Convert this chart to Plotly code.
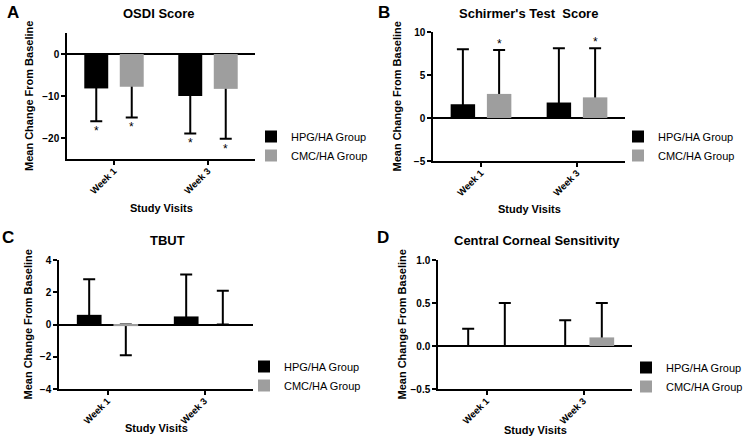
import plotly.graph_objects as go

W, H = 746, 445

visits = ["Week 1", "Week 3"]
groups = ["HPG/HA Group", "CMC/HA Group"]
group_colors = ["#000000", "#9e9e9e"]
x_title = "Study Visits"
y_title = "Mean Change From Baseline"

# Panel A: OSDI Score
osdi_hpg_mean = [-8.2, -10.0]
osdi_hpg_sd = [7.8, 8.9]
osdi_cmc_mean = [-7.8, -8.3]
osdi_cmc_sd = [7.3, 11.9]
osdi_hpg_sig = [True, True]
osdi_cmc_sig = [True, True]

# Panel B: Schirmer's Test Score
schirmer_hpg_mean = [1.6, 1.8]
schirmer_hpg_sd = [6.4, 6.3]
schirmer_cmc_mean = [2.8, 2.4]
schirmer_cmc_sd = [5.1, 5.7]
schirmer_hpg_sig = [False, False]
schirmer_cmc_sig = [True, True]

# Panel C: TBUT
tbut_hpg_mean = [0.6, 0.5]
tbut_hpg_sd = [2.2, 2.6]
tbut_cmc_mean = [-0.1, 0.0]
tbut_cmc_sd = [1.8, 2.1]
tbut_hpg_sig = [False, False]
tbut_cmc_sig = [False, False]

# Panel D: Central Corneal Sensitivity
ccs_hpg_mean = [0.0, 0.0]
ccs_hpg_sd = [0.2, 0.3]
ccs_cmc_mean = [0.0, 0.1]
ccs_cmc_sd = [0.5, 0.4]
ccs_hpg_sig = [False, False]
ccs_cmc_sig = [False, False]

panels = [
    dict(letter="A", title="OSDI Score", yrange=[-25, 5], dtick=10, fmt="d",
         means=[osdi_hpg_mean, osdi_cmc_mean], sds=[osdi_hpg_sd, osdi_cmc_sd],
         sig=[osdi_hpg_sig, osdi_cmc_sig]),
    dict(letter="B", title="Schirmer's Test  Score", yrange=[-5, 10], dtick=5, fmt="d",
         means=[schirmer_hpg_mean, schirmer_cmc_mean], sds=[schirmer_hpg_sd, schirmer_cmc_sd],
         sig=[schirmer_hpg_sig, schirmer_cmc_sig]),
    dict(letter="C", title="TBUT", yrange=[-4, 4], dtick=2, fmt="d",
         means=[tbut_hpg_mean, tbut_cmc_mean], sds=[tbut_hpg_sd, tbut_cmc_sd],
         sig=[tbut_hpg_sig, tbut_cmc_sig]),
    dict(letter="D", title="Central Corneal Sensitivity", yrange=[-0.5, 1.0], dtick=0.5, fmt=".1f",
         means=[ccs_hpg_mean, ccs_cmc_mean], sds=[ccs_hpg_sd, ccs_cmc_sd],
         sig=[ccs_hpg_sig, ccs_cmc_sig]),
]

# layout geometry (pixels)
plot_boxes = [(67, 255, 33, 159), (433, 625, 32, 161), (59, 253, 260, 389), (438, 632, 260, 389)]
title_pos = [(159, 14), (528, 13), (167, 240), (537, 240)]
letter_pos = [(13, 12), (384, 12), (8, 237), (383, 237)]
legend_pos = [(251, 146), (618, 146), (244, 376), (626, 377)]
ytitle_x = [29, 396, 27, 401]
xtitle_y = [208, 209, 428, 430]

FONT = "Liberation Sans, Arial, sans-serif"
fig = go.Figure()
annotations = []
layout = dict(width=W, height=H, margin=dict(l=0, r=0, t=0, b=0, autoexpand=False),
              paper_bgcolor="white", plot_bgcolor="white",
              barmode="group", bargap=0.245, bargroupgap=0.325,
              font=dict(family=FONT, color="black"), showlegend=True)

slot = (1 - 0.245) / 2
offsets = [-slot / 2, slot / 2]

for i, p in enumerate(panels):
    n = i + 1
    xa = "x" if n == 1 else f"x{n}"
    ya = "y" if n == 1 else f"y{n}"
    leg = "legend" if n == 1 else f"legend{n}"
    ogs = ["hpg", "cmc"]
    # error bars (drawn first, beneath the bars)
    for g in range(2):
        m, s = p["means"][g], p["sds"][g]
        up = [sd if mu >= 0 else -mu for mu, sd in zip(m, s)]
        dn = [mu if mu >= 0 else sd for mu, sd in zip(m, s)]
        fig.add_trace(go.Bar(
            x=visits, y=m, xaxis=xa, yaxis=ya, offsetgroup=ogs[g],
            marker=dict(color="rgba(0,0,0,0)", line=dict(width=0)),
            error_y=dict(type="data", symmetric=False, array=up, arrayminus=dn,
                         color="black", thickness=2, width=6),
            showlegend=False, hoverinfo="skip", legend=leg))
    for g in range(2):
        fig.add_trace(go.Bar(
            x=visits, y=p["means"][g], xaxis=xa, yaxis=ya, offsetgroup=ogs[g],
            name=groups[g], marker=dict(color=group_colors[g], line=dict(width=0)),
            legend=leg))
    # significance asterisks
    for g in range(2):
        for k in range(2):
            if p["sig"][g][k]:
                mu, sd = p["means"][g][k], p["sds"][g][k]
                end = mu - sd if mu < 0 else mu + sd
                annotations.append(dict(
                    x=k + offsets[g], y=end, xref=xa, yref=ya, text="*", showarrow=False,
                    yanchor="top" if mu < 0 else "bottom", yshift=-1 if mu < 0 else -3,
                    font=dict(size=12, family=FONT, color="black")))

    x0, x1, y0, y1 = plot_boxes[i]
    axis_common = dict(showline=True, linecolor="black", linewidth=1.5, ticks="outside",
                       ticklen=4, tickwidth=1.5, tickcolor="black", showgrid=False,
                       mirror=False, automargin=False)
    layout["xaxis" if n == 1 else f"xaxis{n}"] = dict(
        axis_common, domain=[x0 / W, x1 / W], anchor=ya, type="category", range=[-0.5, 1.5],
        tickangle=-45, zeroline=False, ticklabelstandoff=-3,
        tickfont=dict(size=9.5, family=FONT, weight="bold", color="black"))
    layout["yaxis" if n == 1 else f"yaxis{n}"] = dict(
        axis_common, domain=[1 - y1 / H, 1 - y0 / H], anchor=xa, range=p["yrange"],
        dtick=p["dtick"], tick0=0, tickformat=p["fmt"], zeroline=True, zerolinecolor="black",
        zerolinewidth=1.5,
        tickfont=dict(size=10, family=FONT, weight="bold", color="black"))
    # axis titles
    annotations.append(dict(x=(x0 + x1) / 2 / W, y=1 - xtitle_y[i] / H, xref="paper", yref="paper",
                            text=x_title, showarrow=False, xanchor="center", yanchor="middle",
                            font=dict(size=11, family=FONT, weight="bold", color="black")))
    annotations.append(dict(x=ytitle_x[i] / W, y=1 - (y0 + y1) / 2 / H, xref="paper", yref="paper",
                            text=y_title, showarrow=False, xanchor="center", yanchor="middle",
                            textangle=-90,
                            font=dict(size=11, family=FONT, weight="bold", color="black")))
    lx, ly = legend_pos[i]
    layout[leg] = dict(x=lx / W, y=1 - ly / H, xanchor="left", yanchor="middle",
                       bgcolor="rgba(0,0,0,0)", font=dict(size=11, family=FONT, color="black"))
    tx, ty = title_pos[i]
    annotations.append(dict(x=tx / W, y=1 - ty / H, xref="paper", yref="paper",
                            text=p["title"], showarrow=False, xanchor="center", yanchor="middle",
                            font=dict(size=13, family=FONT, weight="bold", color="black")))
    lx2, ly2 = letter_pos[i]
    annotations.append(dict(x=lx2 / W, y=1 - ly2 / H, xref="paper", yref="paper",
                            text=p["letter"], showarrow=False, xanchor="center", yanchor="middle",
                            font=dict(size=17, family=FONT, weight="bold", color="black")))

layout["annotations"] = annotations
fig.update_layout(**layout)
fig.write_html("out.html", config={"displayModeBar": False},
               post_script="document.body.style.margin='0';document.body.style.overflow='hidden';")
